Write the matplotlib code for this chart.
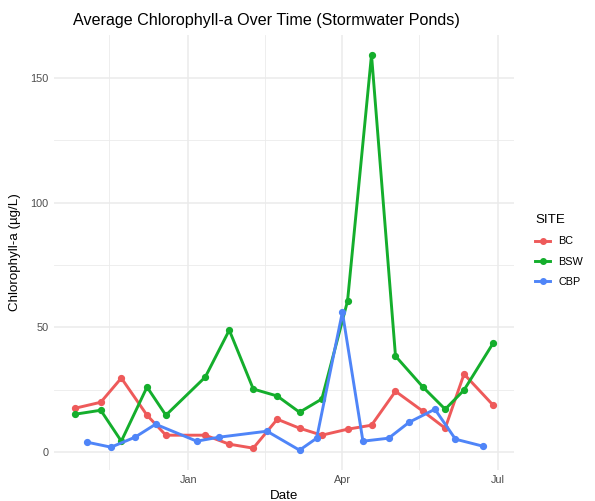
import matplotlib
matplotlib.use("Agg")
import matplotlib.pyplot as plt
import matplotlib.dates as mdates
import numpy as np
import pandas as pd
from matplotlib.lines import Line2D

plt.rcParams["font.family"] = ["Liberation Sans", "DejaVu Sans"]

# Average chlorophyll-a per sampling date (µg/L)
bc_dates = ["2024-10-27", "2024-11-11", "2024-11-23", "2024-12-08", "2024-12-19",
            "2025-01-11", "2025-01-25", "2025-02-08", "2025-02-22", "2025-03-07",
            "2025-03-20", "2025-04-04", "2025-04-18", "2025-05-02", "2025-05-18",
            "2025-05-31", "2025-06-11", "2025-06-28"]
bc_vals = [17.6, 20.0, 29.7, 14.8, 6.8, 6.8, 3.2, 1.6, 13.2, 9.6,
           6.8, 9.2, 10.8, 24.4, 16.4, 9.6, 31.3, 18.8]

bsw_dates = bc_dates
bsw_vals = [15.2, 16.8, 4.4, 26.1, 14.8, 30.1, 48.9, 25.3, 22.5, 16.0,
            21.3, 60.5, 159.2, 38.5, 26.1, 17.2, 24.9, 43.7]

cbp_dates = ["2024-11-03", "2024-11-17", "2024-12-01", "2024-12-13", "2025-01-06",
             "2025-01-19", "2025-02-16", "2025-03-07", "2025-03-17", "2025-04-01",
             "2025-04-13", "2025-04-28", "2025-05-10", "2025-05-25", "2025-06-06",
             "2025-06-22"]
cbp_vals = [4.0, 2.0, 6.0, 11.2, 4.4, 6.0, 8.4, 0.8, 5.6, 56.1,
            4.4, 5.6, 12.0, 17.2, 5.2, 2.4]

sites = ["BC", "BSW", "CBP"]
colors = ["#EE5A5A", "#14AE2C", "#4F85F8"]
series = [(bc_dates, bc_vals), (bsw_dates, bsw_vals), (cbp_dates, cbp_vals)]

fig = plt.figure(figsize=(5.95, 5.01), dpi=100)
ax = fig.add_axes([0.091, 0.062, 0.773, 0.868])

all_d, all_v = [], []
for (d, v), c, s in zip(series, colors, sites):
    d = pd.to_datetime(d)
    ax.plot(d, v, color=c, lw=2.1, marker="o", ms=4.2, label=s,
            solid_capstyle="butt", zorder=3)
    all_d.extend(d)
    all_v.extend(v)

# ggplot-style 5% expansion
dmin, dmax = min(all_d), max(all_d)
pad = (dmax - dmin) * 0.05
ax.set_xlim(dmin - pad, dmax + pad)
vmin, vmax = min(all_v), max(all_v)
vpad = (vmax - vmin) * 0.05
ax.set_ylim(vmin - vpad, vmax + vpad)

ax.set_xticks(pd.to_datetime(["2025-01-01", "2025-04-01", "2025-07-01"]))
ax.xaxis.set_major_formatter(mdates.DateFormatter("%b"))
ax.set_xticks(pd.to_datetime(["2024-11-16", "2025-02-15", "2025-05-16"]), minor=True)
ax.set_yticks([0, 50, 100, 150])
ax.set_yticks([25, 75, 125], minor=True)

ax.grid(True, which="major", color="#EBEBEB", lw=1.1, zorder=0)
ax.grid(True, which="minor", color="#EBEBEB", lw=0.6, zorder=0)
ax.set_axisbelow(True)
for sp in ax.spines.values():
    sp.set_visible(False)
ax.tick_params(which="both", length=0, labelsize=7.8, labelcolor="#4D4D4D", pad=4)

ax.set_xlabel("Date", fontsize=9.6, labelpad=3)
ax.set_ylabel("Chlorophyll-a (µg/L)", fontsize=9.6, labelpad=7)
fig.text(73 / 595, 1 - 20 / 501, "Average Chlorophyll-a Over Time (Stormwater Ponds)",
         fontsize=11.6, ha="left", va="center")

handles = [Line2D([], [], color=c, lw=2.1, marker="o", ms=4.0) for c in colors]
leg = fig.legend(handles, sites, title="SITE", loc="upper left",
                 bbox_to_anchor=(0.883, 0.592), frameon=False, fontsize=7.8,
                 title_fontsize=9.6, handlelength=1.4, labelspacing=0.95,
                 handletextpad=0.75)
leg._legend_box.align = "left"

fig.savefig("out.png", dpi=100)
